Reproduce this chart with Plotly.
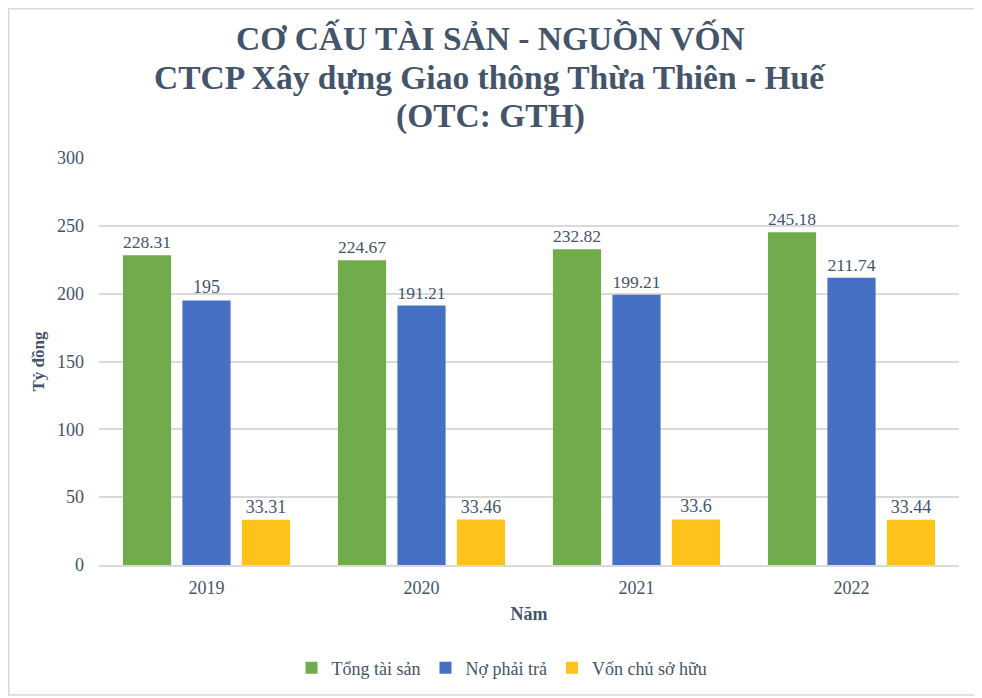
import plotly.graph_objects as go

years = ["2019", "2020", "2021", "2022"]
tong_tai_san = [228.31, 224.67, 232.82, 245.18]
no_phai_tra = [195, 191.21, 199.21, 211.74]
von_chu_so_huu = [33.31, 33.46, 33.6, 33.44]

title_lines = [
    "CƠ CẤU TÀI SẢN - NGUỒN VỐN",
    "CTCP Xây dựng Giao thông Thừa Thiên - Huế",
    "(OTC: GTH)",
]

series = [
    ("Tổng tài sản", tong_tai_san, "#71AC4C"),
    ("Nợ phải trả", no_phai_tra, "#4570C4"),
    ("Vốn chủ sở hữu", von_chu_so_huu, "#FDC31A"),
]

# page body has an 8px margin, so the figure is a bit smaller than the window
OFF = 8
W, H = 982 - OFF, 698 - OFF
ml, mt = 99 - OFF, 158 - OFF
pw, ph = 860, 407
mr = W - ml - pw
mb = H - mt - ph
txt = "#44546A"
font = "Liberation Serif"

fig = go.Figure()
for name, vals, col in series:
    fig.add_trace(go.Bar(
        x=years, y=vals, name=name,
        marker=dict(color=col, line=dict(width=0)),
        text=[str(v) for v in vals], textposition="outside",
        textfont=dict(family=font, size=18, color=txt),
        cliponaxis=False,
    ))

# title lines, placed one by one (absolute page y of each line centre)
for line, yabs in zip(title_lines, [38, 77, 116]):
    fig.add_annotation(
        text="<b>" + line + "</b>", showarrow=False,
        xref="paper", yref="paper",
        x=(490 - 99) / pw, y=1 + (158 - yabs) / ph,
        xanchor="center", yanchor="middle",
        font=dict(family=font, size=33.5, color=txt),
    )

# outer chart border
fig.add_shape(type="rect", xref="paper", yref="paper",
              x0=(OFF + 0.75 - 99) / pw, x1=(979 - 99) / pw,
              y0=-(695 - 565) / ph, y1=1 + (158 - OFF - 0.75) / ph,
              line=dict(color="#D9D9D9", width=1.5), layer="below")

fig.update_layout(
    width=W, height=H,
    margin=dict(l=ml, r=mr, t=mt, b=mb, autoexpand=False),
    paper_bgcolor="white", plot_bgcolor="white",
    barmode="group", bargap=0.17, bargroupgap=0.19,
    font=dict(family=font, color=txt),
    xaxis=dict(
        title=dict(text="<b>Năm</b>", font=dict(family=font, size=18, color=txt), standoff=10),
        tickfont=dict(family=font, size=18, color=txt),
        showgrid=False, showline=True, linecolor="#D9D9D9", linewidth=1.5,
        ticks="", ticklabelstandoff=6,
    ),
    yaxis=dict(
        title=dict(text="<b>Tỷ đồng</b>", font=dict(family=font, size=17, color=txt), standoff=8),
        range=[0, 300], dtick=50,
        tickfont=dict(family=font, size=18, color=txt),
        showgrid=True, gridcolor="#D9D9D9", gridwidth=1.5,
        zeroline=False, showline=False, ticks="", ticklabelstandoff=14,
    ),
    legend=dict(
        orientation="h", x=(502 - OFF) / W, xref="container", xanchor="center",
        y=1 - (668 - OFF) / H, yref="container", yanchor="middle",
        font=dict(family=font, size=18, color=txt), itemwidth=30, traceorder="normal",
    ),
)

fig.write_html("out.html")
